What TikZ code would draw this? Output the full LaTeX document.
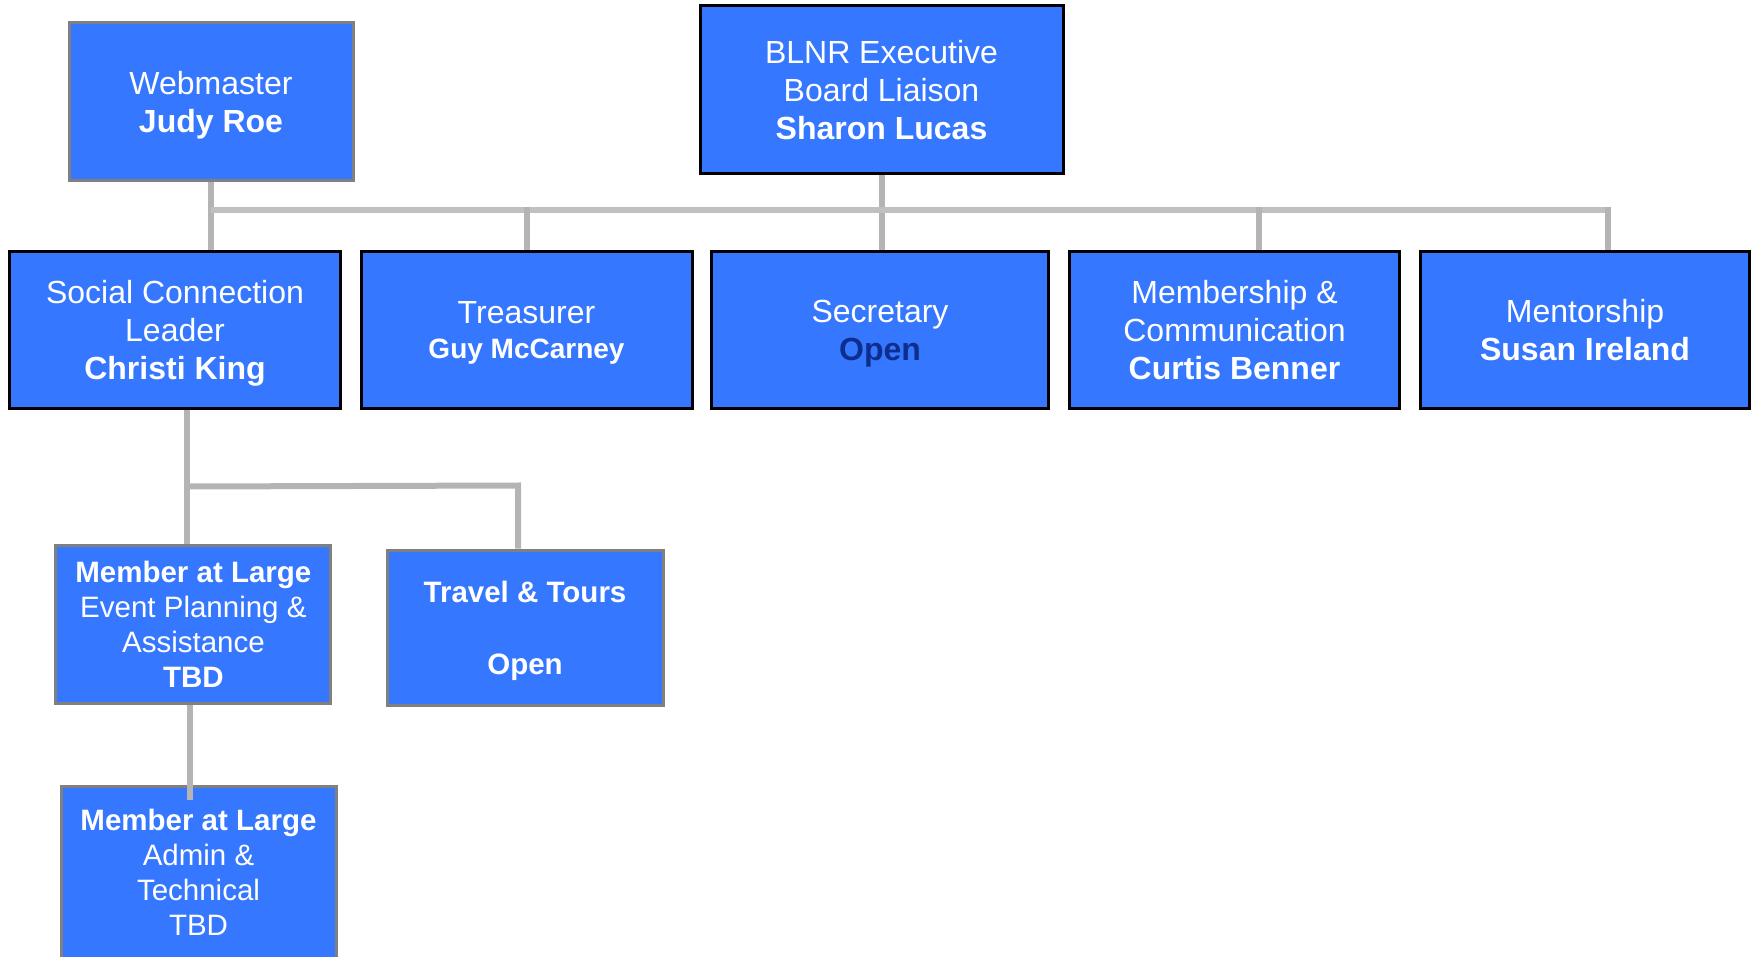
\documentclass[tikz,border=0pt]{standalone}
\usepackage{fontspec}
\setmainfont{Liberation Sans}
\usetikzlibrary{calc}
\definecolor{boxblue}{HTML}{3577FF}
\definecolor{linegray}{HTML}{B4B4B4}
\definecolor{bargray}{HTML}{C0C0C0}
\definecolor{bordergray}{HTML}{808080}
\definecolor{opennavy}{HTML}{0D2E8C}
\begin{document}
\begin{tikzpicture}[x=1pt,y=-1pt,
  box/.style={draw=black, line width=3pt, fill=boxblue, text=white, inner sep=0pt,
    align=center, text depth=0pt, font=\fontsize{32}{38}\selectfont},
  gbox/.style={box, draw=bordergray},
  sbox/.style={gbox, font=\fontsize{29.5}{35}\selectfont},
  conn/.style={draw=linegray, line width=6pt},
  bar/.style={draw=bargray, line width=5.3pt}]
\useasboundingbox (0,0) rectangle (1752,957);

% top row
\node[gbox, minimum width=284pt, minimum height=158pt] (web) at (211,102)
  {Webmaster\\\textbf{Judy Roe}};
\node[box, minimum width=363pt, minimum height=168pt] (blnr) at (881.5,90)
  {BLNR Executive\\Board Liaison\\\textbf{Sharon Lucas}};

% second row
\node[box, minimum width=331pt, minimum height=156pt] (social) at (175,330)
  {Social Connection\\Leader\\\textbf{Christi King}};
\node[box, minimum width=331pt, minimum height=156pt] (treas) at (526.5,330)
  {Treasurer\\[-3pt]{\fontsize{28}{35}\selectfont\bfseries Guy McCarney}};
\node[box, minimum width=336.5pt, minimum height=156pt] (sec) at (880,330)
  {Secretary\\\textcolor{opennavy}{\bfseries Open}};
\node[box, minimum width=330pt, minimum height=156pt] (memb) at (1234.5,330)
  {Membership \&\\Communication\\\textbf{Curtis Benner}};
\node[box, minimum width=329.4pt, minimum height=156pt] (ment) at (1585,330)
  {Mentorship\\\textbf{Susan Ireland}};

% lower rows
\node[sbox, minimum width=275pt, minimum height=157.4pt] (ml1) at (193.4,624.3)
  {\textbf{Member at Large}\\Event Planning \&\\Assistance\\\textbf{TBD}};
\node[sbox, minimum width=276pt, minimum height=155.5pt] (travel) at (525,627.75)
  {\textbf{Travel \& Tours}\\[37pt]\textbf{Open}};
\node[sbox, minimum width=275pt, minimum height=172pt] (ml2) at (198.5,872)
  {\textbf{Member at Large}\\Admin \&\\Technical\\TBD};

% connectors, top
\coordinate (barL) at (211,210);
\coordinate (mdrop) at ($(memb.north)+(24,0)$);
\coordinate (edrop) at ($(ment.north)+(22.6,0)$);
\draw[conn] (web.south) -- (web.south |- social.north);
\draw[conn] (blnr.south) -- (blnr.south |- sec.north);
\draw[bar] (barL) -- (barL -| edrop);
\draw[conn] (treas.north) -- ($(treas.north |- barL)+(0,-2.6)$);
\draw[conn] (mdrop) -- ($(mdrop |- barL)+(0,-2.6)$);
\draw[conn] (edrop) -- ($(edrop |- barL)+(0,-2.6)$);

% connectors, lower
\coordinate (sdrop) at ($(social.south)+(12,0)$);
\coordinate (tdrop) at ($(travel.north)+(-7,0)$);
\draw[conn] (sdrop) -- (sdrop |- ml1.north);
\draw[conn] ($(sdrop)+(0,77)$) -- ($(tdrop)+(0,-63)$) -- (tdrop);
\draw[conn] ($(ml1.south)+(-3.7,0)$) -- ++(0,95);
\end{tikzpicture}
\end{document}
